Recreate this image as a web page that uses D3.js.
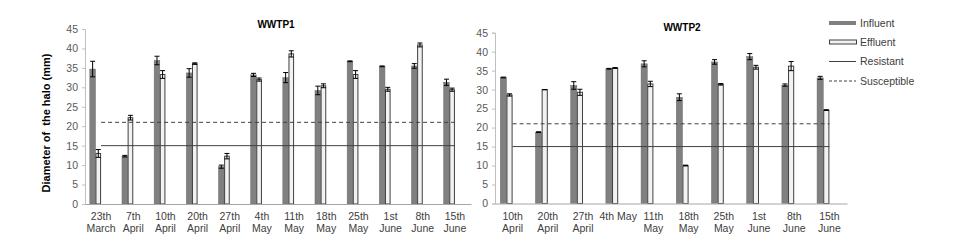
<!DOCTYPE html>
<html>
<head>
<meta charset="utf-8">
<script src="https://cdn.jsdelivr.net/npm/d3@7"></script>
<style>
  body { margin: 0; background: #fff; }
  svg { font-family: "Liberation Sans", Arial, sans-serif; display: block; }
</style>
</head>
<body>
<svg id="chart" width="954" height="248"></svg>
<script>
// WWTP1 data
const dates1 = ['23th\nMarch', '7th\nApril', '10th\nApril', '20th\nApril', '27th\nApril', '4th\nMay',
    '11th\nMay', '18th\nMay', '25th\nMay', '1st\nJune', '8th\nJune', '15th\nJune'];
const influent1 = [34.7, 12.3, 36.9, 33.7, 9.6, 33.2, 32.5, 29.2, 36.7, 35.4, 35.5, 31.3];
const influentErr1 = [2.0, 0.2, 1.1, 1.1, 0.4, 0.4, 1.3, 1.1, 0.1, 0.1, 0.6, 0.8];
const effluent1 = [13.0, 22.2, 33.3, 36.1, 12.3, 32.0, 38.6, 30.4, 33.3, 29.5, 40.9, 29.4];
const effluentErr1 = [1.0, 0.6, 1.0, 0.2, 0.7, 0.4, 0.8, 0.5, 1.0, 0.5, 0.5, 0.4];

// WWTP2 data
const dates2 = ['10th\nApril', '20th\nApril', '27th\nApril', '4th May', '11th\nMay', '18th\nMay',
    '25th\nMay', '1st\nJune', '8th\nJune', '15th\nJune'];
const influent2 = [33.2, 18.8, 31.1, 35.5, 36.8, 28.0, 37.3, 38.7, 31.2, 33.1];
const influentErr2 = [0.1, 0.1, 1.0, 0.1, 0.8, 0.9, 0.6, 0.8, 0.3, 0.4];
const effluent2 = [28.6, 30.0, 29.3, 35.7, 31.5, 10.0, 31.4, 35.9, 36.2, 24.6];
const effluentErr2 = [0.3, 0.0, 0.8, 0.1, 0.7, 0.1, 0.2, 0.5, 1.2, 0.1];

// breakpoints (mm)
const resistant = 15;
const susceptible = 21;
const yTicks = [0, 5, 10, 15, 20, 25, 30, 35, 40, 45];

const svg = d3.select('#chart');

const panels = [
    { title: 'WWTP1', dates: dates1, inf: influent1, infErr: influentErr1, eff: effluent1, effErr: effluentErr1,
      x0: 85, x1: 471, yTop: 29, yBot: 204, titleX: 276, titleY: 28 },
    { title: 'WWTP2', dates: dates2, inf: influent2, infErr: influentErr2, eff: effluent2, effErr: effluentErr2,
      x0: 495, x1: 847, yTop: 32.7, yBot: 203.5, titleX: 682, titleY: 31 }
];

panels.forEach(drawPanel);

function drawPanel(p) {
    const g = svg.append('g');
    const x = d3.scaleBand().domain(p.dates).range([p.x0, p.x1]);
    const y = d3.scaleLinear().domain([0, 45]).range([p.yBot, p.yTop]);
    const bw = x.bandwidth();
    // bars sit left of the category centre (two visible of four slots)
    const xs = d3.scaleBand().domain(['inf', 'eff']).range([bw * 0.15, bw * 0.5]);

    // y axis
    const yAxis = g.append('g')
        .attr('transform', 'translate(' + p.x0 + ',0)')
        .call(d3.axisLeft(y).tickValues(yTicks).tickSize(3).tickPadding(4));
    yAxis.select('.domain').attr('stroke', '#bfbfbf');
    yAxis.selectAll('.tick line').attr('stroke', '#bfbfbf');
    yAxis.selectAll('.tick text').attr('fill', '#595959').style('font-size', '10.5px');

    const rows = p.dates.map((d, i) => ({ d: d, inf: p.inf[i], infErr: p.infErr[i], eff: p.eff[i], effErr: p.effErr[i] }));

    // influent bars
    g.selectAll('.bar-inf')
        .data(rows)
        .enter()
        .append('rect')
        .attr('class', 'bar-inf')
        .attr('x', (d) => x(d.d) + xs('inf'))
        .attr('width', xs.bandwidth())
        .attr('y', (d) => y(d.inf))
        .attr('height', (d) => y(0) - y(d.inf))
        .attr('fill', '#808080')
        .attr('stroke', '#6a6a6a')
        .attr('stroke-width', 0.5);

    // effluent bars
    g.selectAll('.bar-eff')
        .data(rows)
        .enter()
        .append('rect')
        .attr('class', 'bar-eff')
        .attr('x', (d) => x(d.d) + xs('eff') + 0.5)
        .attr('width', xs.bandwidth() - 1)
        .attr('y', (d) => y(d.eff))
        .attr('height', (d) => y(0) - y(d.eff))
        .attr('fill', '#f2f2f2')
        .attr('stroke', '#404040')
        .attr('stroke-width', 1);

    // error bars
    ['inf', 'eff'].forEach((key) => {
        const cx = (d) => x(d.d) + xs(key) + xs.bandwidth() / 2;
        const eg = g.selectAll('.err-' + key)
            .data(rows)
            .enter()
            .append('g')
            .attr('class', 'err-' + key)
            .attr('stroke', '#000')
            .attr('stroke-width', 1);
        eg.append('line')
            .attr('x1', cx).attr('x2', cx)
            .attr('y1', (d) => y(d[key] - d[key + 'Err']))
            .attr('y2', (d) => y(d[key] + d[key + 'Err']));
        [-1, 1].forEach((s) => {
            eg.append('line')
                .attr('x1', (d) => cx(d) - 2.5).attr('x2', (d) => cx(d) + 2.5)
                .attr('y1', (d) => y(d[key] + s * d[key + 'Err']))
                .attr('y2', (d) => y(d[key] + s * d[key + 'Err']));
        });
    });

    // breakpoint lines through category centres
    const first = x(p.dates[0]) + bw / 2;
    const last = x(p.dates[p.dates.length - 1]) + bw / 2;
    g.append('line')
        .attr('x1', first).attr('x2', last)
        .attr('y1', y(resistant)).attr('y2', y(resistant))
        .attr('stroke', '#404040').attr('stroke-width', 1);
    g.append('line')
        .attr('x1', first).attr('x2', last)
        .attr('y1', y(susceptible)).attr('y2', y(susceptible))
        .attr('stroke', '#404040').attr('stroke-width', 1)
        .attr('stroke-dasharray', '4,3');

    // x axis
    const xAxis = g.append('g')
        .attr('transform', 'translate(0,' + p.yBot + ')')
        .call(d3.axisBottom(x).tickSize(0).tickPadding(0));
    xAxis.select('.domain').attr('stroke', '#a6a6a6');
    xAxis.selectAll('.tick text').remove();
    xAxis.selectAll('.tick').each(function (d) {
        const t = d3.select(this).append('text')
            .attr('fill', '#404040')
            .attr('text-anchor', 'middle')
            .style('font-size', '10.5px');
        d.split('\n').forEach((line, i) => {
            t.append('tspan').attr('x', 0).attr('y', 16 + i * 12).text(line);
        });
    });

    // title
    g.append('text')
        .attr('x', p.titleX).attr('y', p.titleY)
        .attr('text-anchor', 'middle')
        .style('font-size', '10px').style('font-weight', 'bold')
        .attr('fill', '#000')
        .text(p.title);
}

// y label
svg.append('text')
    .attr('transform', 'translate(50,123) rotate(-90)')
    .attr('text-anchor', 'middle')
    .style('font-size', '11px').style('font-weight', 'bold')
    .attr('fill', '#000')
    .text('Diameter of  the halo (mm)')
    .attr('xml:space', 'preserve')
    .style('white-space', 'pre');

// legend
const legendItems = ['Influent', 'Effluent', 'Resistant', 'Susceptible'];
const legendY = [23, 42, 61.5, 81];
const lg = svg.append('g').attr('transform', 'translate(829,0)');
legendItems.forEach((name, i) => {
    const cy = legendY[i];
    if (name === 'Influent') {
        lg.append('rect').attr('x', 0).attr('y', cy - 2).attr('width', 27).attr('height', 4).attr('fill', '#808080');
    } else if (name === 'Effluent') {
        lg.append('rect').attr('x', 0.5).attr('y', cy - 2).attr('width', 27).attr('height', 4)
            .attr('fill', '#f2f2f2').attr('stroke', '#404040').attr('stroke-width', 1);
    } else {
        lg.append('line').attr('x1', 0).attr('x2', 27).attr('y1', cy).attr('y2', cy)
            .attr('stroke', '#404040').attr('stroke-width', 1)
            .attr('stroke-dasharray', name === 'Susceptible' ? '3,2' : null);
    }
    lg.append('text')
        .attr('x', 31).attr('y', cy + 3.5)
        .style('font-size', '10.5px')
        .attr('fill', '#404040')
        .text(name);
});
</script>
</body>
</html>
